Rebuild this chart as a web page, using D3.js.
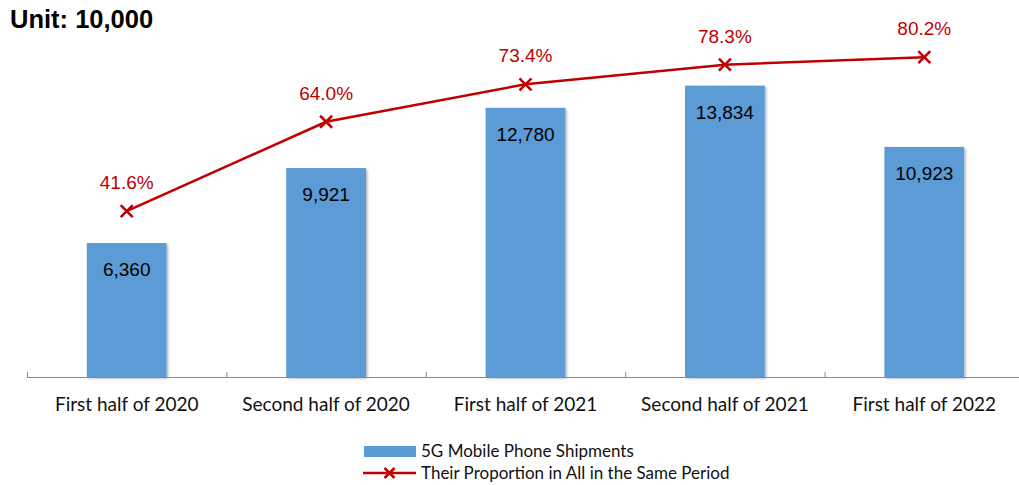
<!DOCTYPE html>
<meta charset="utf-8">
<style>
body { margin: 0; background: #fff; }
svg text { font-family: Arial, "Liberation Sans", sans-serif; }
.cat, .legend text { font-family: Lato, "Open Sans", sans-serif; }
</style>
<body>
<div id="chart"></div>
<script src="https://d3js.org/d3.v7.min.js"></script>
<script>

var categories = ["First half of 2020", "Second half of 2020", "First half of 2021", "Second half of 2021", "First half of 2022"];
var shipments = [6360, 9921, 12780, 13834, 10923];
var proportion = [41.6, 64.0, 73.4, 78.3, 80.2];

var width = 1019, height = 485;
var red = "#c00000", blue = "#5b9bd5";

var svg = d3.select("#chart").append("svg")
    .attr("width", width)
    .attr("height", height);

var defs = svg.append("defs");
var shadow = defs.append("filter").attr("id", "shadow")
    .attr("x", "-10%").attr("y", "-10%").attr("width", "130%").attr("height", "130%");
shadow.append("feDropShadow")
    .attr("dx", 1.5).attr("dy", 1.5).attr("stdDeviation", 1.2)
    .attr("flood-color", "#000").attr("flood-opacity", 0.3);

var x = d3.scaleBand()
    .domain(categories)
    .range([27, 1024])
    .paddingInner(0.6)
    .paddingOuter(0.3);

var y = d3.scaleLinear().domain([0, 16000]).range([377, 40]);
var y2 = d3.scaleLinear().domain([0, 84.5]).range([377, 40]);

// title
svg.append("text")
    .attr("x", 10).attr("y", 28)
    .style("font-size", "25.5px").style("font-weight", "bold")
    .text("Unit: 10,000");

// bars
svg.selectAll(".bar")
    .data(categories)
    .enter().append("rect")
    .attr("class", "bar")
    .attr("x", function(d) { return x(d); })
    .attr("width", x.bandwidth())
    .attr("y", function(d, i) { return y(shipments[i]); })
    .attr("height", function(d, i) { return y(0) - y(shipments[i]); })
    .attr("fill", blue)
    .attr("filter", "url(#shadow)");

svg.selectAll(".barlabel")
    .data(categories)
    .enter().append("text")
    .attr("class", "barlabel")
    .attr("x", function(d) { return x(d) + x.bandwidth() / 2; })
    .attr("y", function(d, i) { return y(shipments[i]) + 33; })
    .attr("text-anchor", "middle")
    .style("font-size", "19px")
    .text(function(d, i) { return d3.format(",")(shipments[i]); });

// x axis
var axis = svg.append("g");
axis.append("line")
    .attr("x1", x.range()[0]).attr("x2", x.range()[1])
    .attr("y1", 377.5).attr("y2", 377.5)
    .attr("stroke", "#888").attr("stroke-width", 1);
axis.selectAll(".tick")
    .data(d3.range(categories.length + 1))
    .enter().append("line")
    .attr("x1", function(i) { return x.range()[0] + i * (x.range()[1] - x.range()[0]) / categories.length + 0.5; })
    .attr("x2", function(i) { return x.range()[0] + i * (x.range()[1] - x.range()[0]) / categories.length + 0.5; })
    .attr("y1", 372).attr("y2", 377.5)
    .attr("stroke", "#888");

svg.selectAll(".cat")
    .data(categories)
    .enter().append("text")
    .attr("class", "cat")
    .attr("x", function(d) { return x(d) + x.bandwidth() / 2; })
    .attr("y", 411)
    .attr("text-anchor", "middle")
    .style("font-size", "19px")
    .attr("fill", "#111")
    .text(function(d) { return d; });

// line
var cx = function(i) { return x(categories[i]) + x.bandwidth() / 2; };
var line = d3.line()
    .x(function(d, i) { return cx(i); })
    .y(function(d) { return y2(d); });

svg.append("path")
    .datum(proportion)
    .attr("d", line)
    .attr("fill", "none")
    .attr("stroke", red)
    .attr("stroke-width", 2.5);

function cross(g, px, py, r) {
  g.append("path")
    .attr("d", "M" + (px - r) + "," + (py - r) + "L" + (px + r) + "," + (py + r) +
               "M" + (px - r) + "," + (py + r) + "L" + (px + r) + "," + (py - r))
    .attr("stroke", red).attr("stroke-width", 2.5).attr("fill", "none");
}

var marks = svg.append("g");
proportion.forEach(function(p, i) {
  cross(marks, cx(i), y2(p), 6);
  marks.append("text")
    .attr("x", cx(i))
    .attr("y", y2(p) - 22)
    .attr("text-anchor", "middle")
    .attr("fill", red)
    .style("font-size", "19px")
    .text(p.toFixed(1) + "%");
});

// legend
var legend = svg.append("g").attr("class", "legend");
legend.append("rect")
    .attr("x", 364).attr("y", 446).attr("width", 52).attr("height", 11)
    .attr("fill", blue);
legend.append("text")
    .attr("x", 421).attr("y", 457)
    .style("font-size", "17px").attr("fill", "#111")
    .text("5G Mobile Phone Shipments");
legend.append("line")
    .attr("x1", 363).attr("x2", 416).attr("y1", 473).attr("y2", 473)
    .attr("stroke", red).attr("stroke-width", 2.5);
cross(legend, 389.5, 473, 5);
legend.append("text")
    .attr("x", 421).attr("y", 479)
    .style("font-size", "17px").attr("fill", "#111")
    .text("Their Proportion in All in the Same Period");

</script>
</body>
